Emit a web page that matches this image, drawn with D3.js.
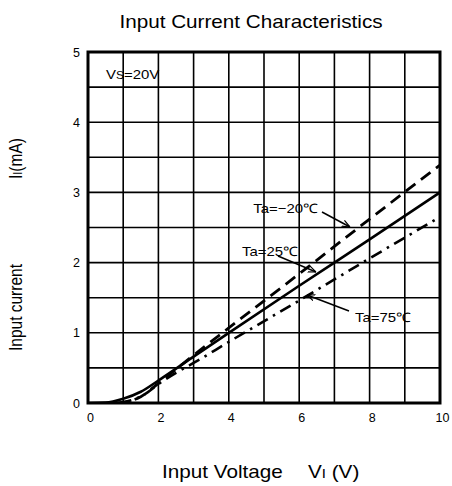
<!DOCTYPE html>
<html><head><meta charset="utf-8">
<script src="https://cdn.jsdelivr.net/npm/d3@7"></script>
<style>body{margin:0;background:#fff}svg{display:block}text{font-family:"Liberation Sans",Arial,sans-serif;fill:#000}</style>
</head><body><svg id="c" width="452" height="486"></svg>
<script>
const xTicks = [0,2,4,6,8,10];
const yTicks = [0,1,2,3,4,5];
const xGrid = [1,2,3,4,5,6,7,8,9];
const yGrid = [0.5,1,1.5,2,2.5,3,3.5,4,4.5];
const vM20 = [0.8,1.2,1.5,2,2.5,3,4,6,8,10];
const iM20 = [0,0.03,0.09,0.28,0.48,0.68,1.07,1.84,2.62,3.39];
const v25 = [0,0.5,1,1.5,2,3,4,6,8,10];
const i25 = [0,0.005,0.06,0.16,0.32,0.66,1.0,1.67,2.33,3.0];
const v75 = [0.9,1.3,1.6,2,2.5,3,4,6,8,10];
const i75 = [0,0.05,0.12,0.27,0.43,0.57,0.87,1.46,2.06,2.65];

const SX = 1.15;
const svg = d3.select("#c");
const L=88,R=440,T=52,B=403;
const x = d3.scaleLinear().domain([0,10]).range([L,R]);
const y = d3.scaleLinear().domain([0,5]).range([B,T]);

function stext(px,py,anchor,size,rot){
  const g = svg.append("g").attr("transform",`translate(${px},${py}) scale(${SX},1)`+(rot?` rotate(${rot})`:""));
  return g.append("text").attr("text-anchor",anchor).attr("font-size",size).attr("xml:space","preserve");
}

stext(251,28,"middle",18).text("Input Current Characteristics");

const g = svg.append("g");
g.selectAll(".vg").data(xGrid).join("line").attr("x1",d=>x(d)).attr("x2",d=>x(d)).attr("y1",T).attr("y2",B).attr("stroke","#000").attr("stroke-width",1.6);
g.selectAll(".hg").data(yGrid).join("line").attr("y1",d=>y(d)).attr("y2",d=>y(d)).attr("x1",L).attr("x2",R).attr("stroke","#000").attr("stroke-width",1.6);
g.append("rect").attr("x",L).attr("y",T).attr("width",R-L).attr("height",B-T).attr("fill","none").attr("stroke","#000").attr("stroke-width",3);

const xa = svg.append("g").attr("transform",`translate(2,${B})`).call(d3.axisBottom(x).tickValues(xTicks).tickSize(0).tickPadding(10).tickFormat(d3.format("d")));
xa.select(".domain").remove();
xa.selectAll("text").attr("font-size",12.5).attr("font-family","Liberation Sans, Arial");
const ya = svg.append("g").attr("transform",`translate(${L},0)`).call(d3.axisLeft(y).tickValues(yTicks).tickSize(0).tickPadding(8).tickFormat(d3.format("d")));
ya.select(".domain").remove();
ya.selectAll("text").attr("font-size",12.5).attr("font-family","Liberation Sans, Arial");

const line = d3.line().x(d=>x(d[0])).y(d=>y(d[1])).curve(d3.curveMonotoneX);
svg.append("clipPath").attr("id","pc").append("rect").attr("x",L).attr("y",T).attr("width",R-L).attr("height",B-T);
const cg = svg.append("g").attr("clip-path","url(#pc)");
cg.append("path").attr("d",line(d3.zip(vM20,iM20))).attr("fill","none").attr("stroke","#000").attr("stroke-width",2.8).attr("stroke-dasharray","12,7");
cg.append("path").attr("d",line(d3.zip(v25,i25))).attr("fill","none").attr("stroke","#000").attr("stroke-width",2.6);
cg.append("path").attr("d",line(d3.zip(v75,i75))).attr("fill","none").attr("stroke","#000").attr("stroke-width",2.6).attr("stroke-dasharray","12,6,2.5,6");

svg.append("defs").append("marker").attr("id","ar").attr("viewBox","0 0 10 10").attr("refX",10).attr("refY",5).attr("markerWidth",8).attr("markerHeight",8).attr("orient","auto").attr("markerUnits","userSpaceOnUse")
  .append("path").attr("d","M0,1 L10,5 L0,9").attr("fill","none").attr("stroke","#000").attr("stroke-width",1.5);

function label(txt,tx,ty,x1,y1,x2,y2){
  const t = stext(tx,ty,"end",13);
  t.text(txt);
  svg.append("line").attr("x1",x1).attr("y1",y1).attr("x2",x2).attr("y2",y2).attr("stroke","#000").attr("stroke-width",1.5).attr("marker-end","url(#ar)");
}
label("Ta=−20℃",318,213,322,212,350,227);
label("Ta=25℃",298,256,278,256,316,272);
label("Ta=75℃",411,322,349,311,307,295);

const vs = stext(106,79,"start",13);
vs.append("tspan").text("V");
vs.append("tspan").attr("font-size",10.5).text("S");
vs.append("tspan").text("=20V");

stext(162,478,"start",18).text("Input Voltage");
const xl2 = stext(308,478,"start",18);
xl2.append("tspan").text("V");
xl2.append("tspan").attr("font-size",13).text("I");
xl2.append("tspan").text(" (V)");

stext(22,351,"start",15.5,-90).text("Input current");
const yl2 = stext(22,179,"start",15.5,-90);
yl2.append("tspan").text("I");
yl2.append("tspan").attr("font-size",11).text("I");
yl2.append("tspan").text("(mA)");
</script></body></html>
